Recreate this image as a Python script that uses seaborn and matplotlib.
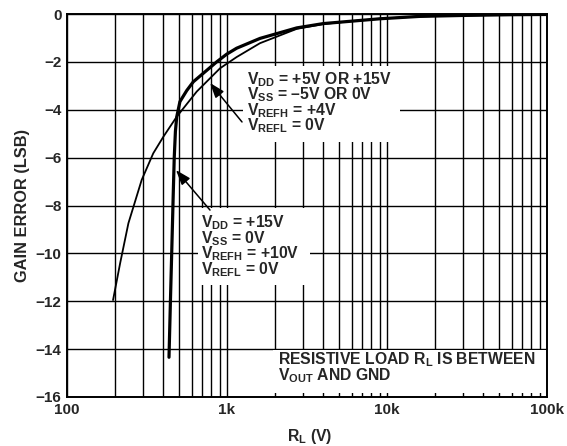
import numpy as np
import pandas as pd
import matplotlib
matplotlib.use("Agg")
import matplotlib.pyplot as plt
from matplotlib.patches import Rectangle
from matplotlib.ticker import FixedLocator, FixedFormatter, NullFormatter, LogLocator
import seaborn as sns

# Gain error vs. load resistance
r_low_ref = [194, 215, 242, 293, 346, 400, 485, 647, 904, 1148, 1607, 2730,
             4000, 6000, 9000, 16000, 30000, 60000, 100000]
err_low_ref = [-11.95, -10.4, -8.74, -6.93, -5.82, -5.13, -4.29, -3.24, -2.27,
               -1.80, -1.22, -0.62, -0.42, -0.30, -0.20, -0.10, -0.06, -0.03, -0.02]

r_high_ref = [434, 443, 452, 461, 468, 476, 485, 508, 560, 616, 710, 862, 995,
              1148, 1607, 2730, 4000, 6000, 9000, 16000, 30000, 60000, 100000]
err_high_ref = [-14.34, -12.0, -9.8, -7.6, -6.0, -4.9, -4.3, -3.66, -3.2, -2.83,
                -2.48, -2.0, -1.68, -1.43, -1.02, -0.58, -0.40, -0.30, -0.20,
                -0.10, -0.06, -0.03, -0.02]

x_ticks = [100, 1000, 10000, 100000]
x_tick_labels = ["100", "1k", "10k", "100k"]
y_ticks = [-16, -14, -12, -10, -8, -6, -4, -2, 0]

note_low = [r"$\mathregular{V_{DD}}$ = +5V OR +15V",
            r"$\mathregular{V_{SS}}$ = –5V OR 0V",
            r"$\mathregular{V_{REFH}}$ = +4V",
            r"$\mathregular{V_{REFL}}$ = 0V"]
note_high = [r"$\mathregular{V_{DD}}$ = +15V",
             r"$\mathregular{V_{SS}}$ = 0V",
             r"$\mathregular{V_{REFH}}$ = +10V",
             r"$\mathregular{V_{REFL}}$ = 0V"]
note_load = [r"RESISTIVE LOAD $\mathregular{R_L}$ IS BETWEEN",
             r"$\mathregular{V_{OUT}}$ AND GND"]

sns.set_style("white")
plt.rcParams["font.family"] = ["Liberation Sans", "DejaVu Sans"]
plt.rcParams["font.weight"] = "bold"
plt.rcParams["mathtext.fontset"] = "custom"
for key in ("rm", "bf", "it", "sf"):
    plt.rcParams["mathtext." + key] = "Liberation Sans:bold"

FS_TICK = 11
FS_NOTE = 11.3
FS_LABEL = 11.8

fig = plt.figure(figsize=(5.67, 4.46), dpi=100)
ax = fig.add_axes([67 / 567, 1 - 397 / 446, 480 / 567, 383 / 446])

df_low = pd.DataFrame({"R": r_low_ref, "err": err_low_ref})
df_high = pd.DataFrame({"R": r_high_ref, "err": err_high_ref})
sns.lineplot(data=df_low, x="R", y="err", ax=ax, color="black", lw=1.3,
             estimator=None, sort=False, zorder=3)
sns.lineplot(data=df_high, x="R", y="err", ax=ax, color="black", lw=2.3,
             estimator=None, sort=False, zorder=3)

ax.set_xscale("log")
ax.set_xlim(100, 100000)
ax.set_ylim(-16, 0)
ax.xaxis.set_major_locator(FixedLocator(x_ticks))
ax.xaxis.set_major_formatter(FixedFormatter(x_tick_labels))
ax.xaxis.set_minor_locator(LogLocator(base=10, subs=np.arange(2, 10)))
ax.xaxis.set_minor_formatter(NullFormatter())
ax.set_yticks(y_ticks)
ax.set_axisbelow(True)
ax.grid(True, which="both", axis="x", color="black", lw=1.0)
ax.grid(True, which="major", axis="y", color="black", lw=1.0)
ax.tick_params(axis="both", which="both", length=0, labelsize=FS_TICK)
ax.tick_params(axis="x", pad=4.5)
ax.tick_params(axis="y", pad=4)
for lab in ax.get_xticklabels() + ax.get_yticklabels():
    lab.set_fontweight("bold")
for sp in ax.spines.values():
    sp.set_color("black")
    sp.set_linewidth(1.4)

ax.set_xlabel(r"$\mathregular{R_L}$ (V)", fontsize=FS_NOTE, fontweight="bold")
ax.set_ylabel("GAIN ERROR (LSB)", fontsize=FS_LABEL, fontweight="bold")
ax.xaxis.set_label_coords(0.506, -0.078)
ax.yaxis.set_label_coords(-0.077, 0.5)

# white panels behind the notes
for (x0, x1, y0, y1) in [(0.367, 0.694, 0.666, 0.864),
                         (0.273, 0.506, 0.292, 0.494),
                         (0.429, 0.998, 0.010, 0.123)]:
    ax.add_patch(Rectangle((x0, y0), x1 - x0, y1 - y0, transform=ax.transAxes,
                           facecolor="white", edgecolor="none", zorder=1))

def note(lines, x, y_top):
    ax.text(x, y_top, "\n".join(lines), transform=ax.transAxes, fontsize=FS_NOTE,
            fontweight="bold", ha="left", va="top", linespacing=0.78, zorder=4)

note(note_low, 0.376, 0.854)
note(note_high, 0.280, 0.479)
note(note_load, 0.4396, 0.1214)

arrow = dict(arrowstyle="-|>,head_length=0.9,head_width=0.32", color="black",
             lw=1.1, mutation_scale=10, shrinkA=0, shrinkB=0)
ax.annotate("", xy=(783, -2.88), xytext=(1241, -4.51), arrowprops=arrow, zorder=4)
ax.annotate("", xy=(480, -6.52), xytext=(783, -8.19), arrowprops=arrow, zorder=4)

fig.savefig("out.png", dpi=100)
